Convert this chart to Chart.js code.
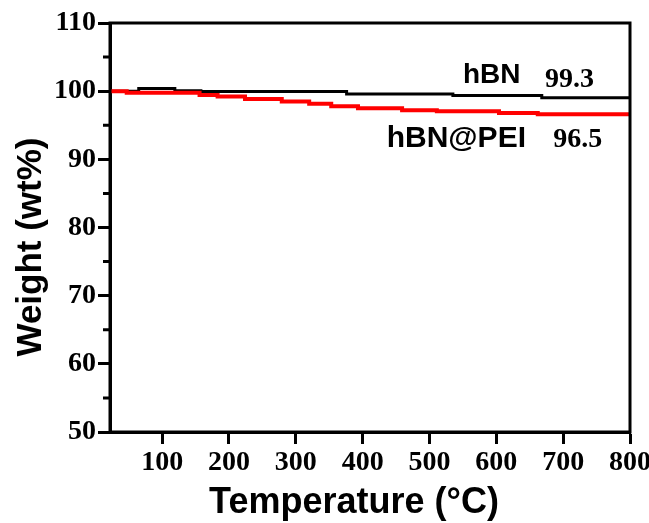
<!DOCTYPE html>
<html><head><meta charset="utf-8">
<script src="https://cdn.jsdelivr.net/npm/chart.js@4"></script>
<style>html,body{margin:0;padding:0;background:#fff}#c{display:block}</style>
</head>
<body>
<canvas id="c" width="649" height="523"></canvas>
<script>
const xTicks = [100, 200, 300, 400, 500, 600, 700, 800];
const yTicks = [50, 60, 70, 80, 90, 100, 110];
const yMinor = [55, 65, 75, 85, 95, 105];
const hbnT = [22, 65, 119, 158, 376, 535, 668, 800];
const hbnW = [100, 100.4, 100.05, 99.95, 99.6, 99.35, 99.05, 99.05];
const peiT = [22, 47, 156, 183, 224, 279, 320, 353, 393, 459, 511, 604, 662, 800];
const peiW = [100, 99.75, 99.45, 99.2, 98.85, 98.5, 98.17, 97.8, 97.5, 97.2, 97.05, 96.8, 96.6, 96.6];
const seriesNames = ['hBN', 'hBN@PEI'];
const finalValues = ['99.3', '96.5'];
const xTitle = 'Temperature (\u00B0C)';
const yTitle = 'Weight (wt%)';

const frame = {
  id: 'frame',
  afterDraw(chart) {
    const ctx = chart.ctx, a = chart.chartArea, ys = chart.scales.y, xs = chart.scales.x;
    ctx.save();
    ctx.strokeStyle = '#000';
    ctx.lineWidth = 3;
    ctx.strokeRect(a.left, a.top, a.right - a.left, a.bottom - a.top);
    ctx.beginPath();
    yMinor.forEach(v => {
      const p = ys.getPixelForValue(v);
      ctx.moveTo(a.left - 7, p); ctx.lineTo(a.left, p);
    });
    ctx.stroke();
    // series labels
    ctx.fillStyle = '#000';
    ctx.textBaseline = 'alphabetic';
    ctx.textAlign = 'left';
    ctx.font = 'bold 28px "Liberation Sans", Arial, sans-serif';
    ctx.fillText(seriesNames[0], xs.getPixelForValue(550), ys.getPixelForValue(101.25));
    ctx.font = 'bold 30px "Liberation Sans", Arial, sans-serif';
    ctx.fillText(seriesNames[1], xs.getPixelForValue(436), ys.getPixelForValue(91.86));
    ctx.font = 'bold 28px "Liberation Serif", "Times New Roman", serif';
    ctx.fillText(finalValues[0], xs.getPixelForValue(673), ys.getPixelForValue(100.66));
    ctx.fillText(finalValues[1], xs.getPixelForValue(685), ys.getPixelForValue(91.86));
    // axis titles
    ctx.font = 'bold 36px "Liberation Sans", Arial, sans-serif';
    ctx.textAlign = 'center';
    ctx.fillText(xTitle, 354, 513);
    ctx.save();
    ctx.translate(31, 247);
    ctx.rotate(-Math.PI / 2);
    ctx.textBaseline = 'middle';
    ctx.font = 'bold 35px "Liberation Sans", Arial, sans-serif';
    ctx.fillText(yTitle, 0, 0);
    ctx.restore();
    ctx.restore();
  }
};

const tickFont = { family: '"Liberation Serif", "Times New Roman", serif', size: 28, weight: 'bold' };

new Chart(document.getElementById('c'), {
  type: 'line',
  data: {
    datasets: [
      {
        label: seriesNames[1],
        data: peiT.map((t, i) => ({ x: t, y: peiW[i] })),
        borderColor: '#ff0000', borderWidth: 4, pointRadius: 0, stepped: 'before', fill: false, order: 0
      },
      {
        label: seriesNames[0],
        data: hbnT.map((t, i) => ({ x: t, y: hbnW[i] })),
        borderColor: '#000000', borderWidth: 3, pointRadius: 0, stepped: 'before', fill: false, order: 1
      }
    ]
  },
  options: {
    responsive: false,
    devicePixelRatio: 1,
    animation: false,
    layout: { padding: { left: 0, right: 19, top: 23, bottom: 0 } },
    plugins: { legend: { display: false }, tooltip: { enabled: false } },
    scales: {
      x: {
        type: 'linear', min: 22, max: 800,
        afterBuildTicks(s) { s.ticks = xTicks.map(v => ({ value: v })); },
        afterFit(s) { s.height = 91; s.paddingLeft = 0; s.paddingRight = 0; },
        grid: { drawOnChartArea: false, tickLength: 12, tickWidth: 3, tickColor: '#000' },
        border: { color: '#000', width: 3 },
        ticks: { font: tickFont, color: '#000', padding: 2, maxRotation: 0, autoSkip: false }
      },
      y: {
        type: 'linear', min: 50, max: 110,
        afterBuildTicks(s) { s.ticks = yTicks.map(v => ({ value: v })); },
        afterFit(s) { s.width = 110; s.paddingTop = 0; s.paddingBottom = 0; },
        grid: { drawOnChartArea: false, tickLength: 12, tickWidth: 3, tickColor: '#000' },
        border: { color: '#000', width: 3 },
        ticks: { font: tickFont, color: '#000', padding: 2, autoSkip: false }
      }
    }
  },
  plugins: [frame]
});
</script>
</body></html>
